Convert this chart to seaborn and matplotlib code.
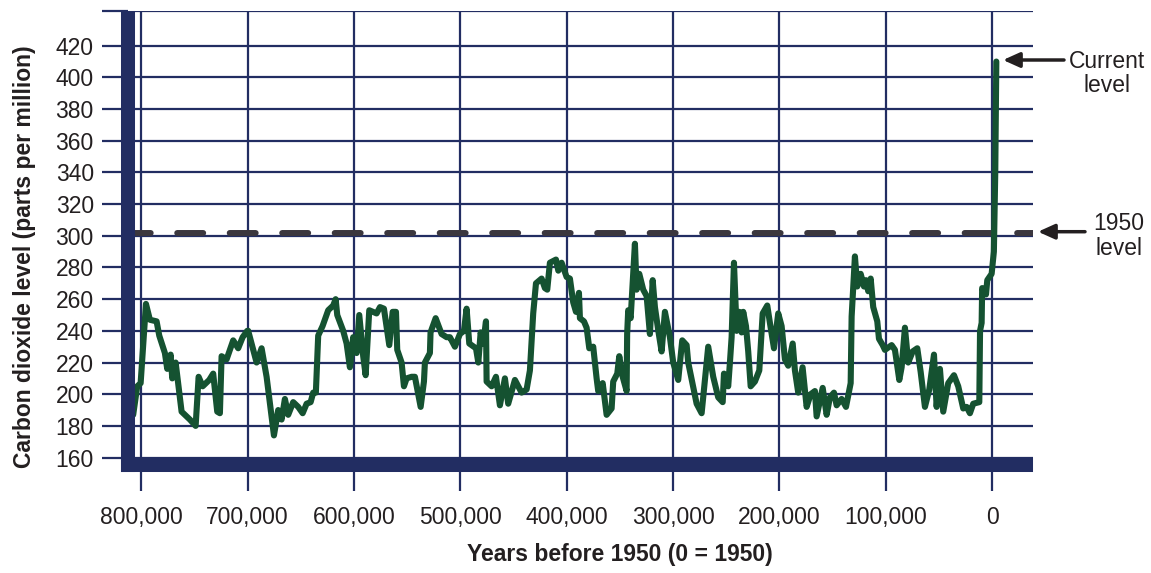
import matplotlib
matplotlib.use("Agg")
import matplotlib.pyplot as plt
import seaborn as sns

# ---- data (years before 1950, CO2 in ppm) ----
years = [
    807500, 803700, 800500, 795500, 791800, 785500, 783000, 777700, 775500, 772300,
    770800, 767600, 762000, 754200, 748800, 746000, 742200, 736000, 732300, 728500,
    726000, 724400, 719700, 713500, 708800, 704600, 700300, 699400, 694700, 691500,
    686800, 682100, 675200, 671200, 668000, 664900, 661800, 657100, 652400, 648200,
    644500, 640700, 638300, 635800, 633600, 629500, 624200, 619500, 617200, 615700,
    610100, 606900, 603800, 600700, 597500, 595000, 591300, 589000, 585600, 578700,
    575500, 571800, 566800, 563600, 560500, 559300, 555200, 553000, 550500, 545800,
    542700, 537300, 534200, 533300, 528600, 528000, 523200, 517600, 512900, 509800,
    505100, 500400, 496600, 494100, 491600, 485300, 483100, 480900, 478500, 475900,
    475300, 470600, 466500, 462800, 458100, 455000, 448700, 442400, 437700, 434600,
    431500, 428900, 423600, 420500, 418300, 415800, 410100, 407900, 404800, 400100,
    397000, 393900, 391300, 388500, 387600, 383800, 381300, 378800, 375100, 371900,
    370400, 366200, 362500, 357800, 356300, 352500, 350600, 347400, 343700, 343200,
    342200, 339900, 335900, 334300, 331800, 328100, 324900, 321800, 319200, 317100,
    313900, 310800, 307700, 303000, 299900, 295200, 291400, 287300, 285800, 277900,
    273200, 267000, 262300, 257600, 253400, 252200, 248200, 246600, 245000, 242800,
    240300, 237800, 235600, 234100, 231500, 229400, 227100, 223100, 219000, 215800,
    211500, 209000, 205200, 201200, 198000, 194900, 191800, 187600, 185500, 182400,
    178300, 174500, 170700, 166700, 165100, 159400, 155700, 152600, 148800, 146300,
    141600, 137500, 133100, 132200, 129100, 126900, 123700, 120600, 118700, 116600,
    114300, 111900, 108100, 106500, 103000, 100900, 94600, 91500, 87400, 85200,
    82100, 79000, 74800, 70500, 67300, 63300, 59200, 54800, 52300, 49200,
    46100, 41400, 36000, 32000, 27300, 24100, 21000, 17900, 12200, 11500,
    10000, 9500, 5900, 4700, 600, -1500, -2800, -3800,
]
co2 = [
    187, 205, 207, 257, 247, 246, 237, 226, 216, 225,
    210, 220, 189, 184, 180, 211, 205, 209, 213, 189,
    188, 224, 222, 234, 229, 236, 240, 240, 228, 220,
    229, 211, 174, 190, 184, 197, 187, 195, 192, 188,
    194, 195, 201, 201, 237, 243, 253, 256, 260, 250,
    240, 232, 217, 236, 226, 250, 224, 212, 253, 251,
    255, 254, 231, 252, 252, 228, 220, 205, 210, 211,
    211, 192, 208, 220, 226, 239, 248, 238, 236, 236,
    230, 238, 240, 254, 232, 229, 220, 239, 232, 246,
    208, 205, 211, 193, 210, 194, 209, 201, 203, 215,
    251, 270, 273, 267, 266, 283, 285, 278, 283, 274,
    273, 258, 252, 264, 248, 246, 242, 229, 230, 210,
    202, 207, 187, 191, 208, 213, 224, 211, 202, 238,
    253, 248, 295, 266, 276, 266, 262, 238, 272, 255,
    240, 227, 252, 236, 220, 209, 234, 231, 220, 194,
    188, 230, 211, 198, 195, 213, 205, 220, 236, 283,
    240, 252, 239, 252, 243, 227, 205, 208, 215, 251,
    256, 245, 229, 251, 243, 222, 218, 232, 215, 201,
    217, 192, 200, 202, 186, 204, 187, 198, 201, 193,
    197, 192, 207, 249, 287, 268, 276, 268, 272, 265,
    273, 255, 246, 235, 231, 228, 231, 228, 209, 217,
    242, 220, 227, 229, 214, 192, 203, 225, 192, 216,
    189, 207, 212, 205, 191, 192, 188, 194, 195, 240,
    245, 267, 263, 272, 276, 290, 340, 410,
]
level_1950 = 301.6
x_ticks = [800000, 700000, 600000, 500000, 400000, 300000, 200000, 100000, 0]
y_ticks = [160, 180, 200, 220, 240, 260, 280, 300, 320, 340, 360, 380, 400, 420]

NAVY = "#222d62"
GREEN = "#155231"
DASH = "#3b373e"
INK = "#231f20"

sns.set_theme(style="white")
plt.rcParams["font.family"] = ["Liberation Sans", "DejaVu Sans"]

fig = plt.figure(figsize=(11.51, 5.73), dpi=100)
ax = fig.add_axes([0.1110, 0.1890, 0.7865, 0.7923])

x_left, x_right = 812600, -38300
y_bot, y_top = 155.5, 442.1

ax.grid(True, color=NAVY, lw=1.6)
ax.axhline(level_1950, color=DASH, lw=4.3, linestyle=(0.55, (4.35, 4.44)),
           dash_capstyle="round")
sns.lineplot(x=years, y=co2, sort=False, estimator=None, color=GREEN, lw=4.4,
             ax=ax, solid_joinstyle="round", solid_capstyle="round")

ax.set_xlim(x_left, x_right)
ax.set_ylim(y_bot, y_top)

ax.set_xticks(x_ticks, labels=[f"{v:,}" for v in x_ticks])
ax.set_yticks(y_ticks + [y_top], labels=[str(v) for v in y_ticks] + [""])
ax.tick_params(axis="both", length=18.5, width=1.6, color=NAVY, labelsize=16.5,
               labelcolor=INK, bottom=True, left=True)
ax.tick_params(axis="x", pad=11.5)
ax.tick_params(axis="y", pad=6)

for side in ["top", "right"]:
    ax.spines[side].set_visible(False)
for side in ["left", "bottom"]:
    ax.spines[side].set_color(NAVY)
    ax.spines[side].set_linewidth(10.1)
    ax.spines[side].set_zorder(3)
# spines have projecting caps: pull the far ends back by half the width
ax.spines["left"].set_bounds(y_bot, y_top - 4.4)
ax.spines["bottom"].set_bounds(x_left, x_right + 6600)

ax.set_xlabel("Years before 1950 (0 = 1950)", fontsize=16.5, fontweight="bold",
              color=INK, va="baseline")
ax.xaxis.set_label_coords(619.5 / 1151, 1 - 561 / 573, transform=fig.transFigure)
ax.set_ylabel("Carbon dioxide level (parts per million)", fontsize=16.5,
              fontweight="bold", color=INK, va="baseline")
ax.yaxis.set_label_coords(31 / 1151, 1 - 256.5 / 573, transform=fig.transFigure)

# arrows + side notes
arrow = dict(arrowstyle="-|>,head_length=1.0,head_width=0.45", lw=2.5, color=INK,
             mutation_scale=10, shrinkA=0, shrinkB=0)
ax.annotate("", xy=(1003 / 1151, 1 - 60 / 573), xytext=(1064 / 1151, 1 - 60 / 573),
            xycoords="figure fraction", textcoords="figure fraction",
            arrowprops=arrow, annotation_clip=False)
ax.annotate("", xy=(1038 / 1151, 1 - 231.7 / 573), xytext=(1085 / 1151, 1 - 231.7 / 573),
            xycoords="figure fraction", textcoords="figure fraction",
            arrowprops=arrow, annotation_clip=False)

notes = [("Current", 1107, 68.3), ("level", 1107, 91.7),
         ("1950", 1119, 230), ("level", 1119, 255)]
for txt, px, py in notes:
    fig.text(px / 1151, 1 - py / 573, txt, ha="center", va="baseline",
             fontsize=16.5, color=INK)

fig.savefig("out.png", dpi=100)
plt.close(fig)
